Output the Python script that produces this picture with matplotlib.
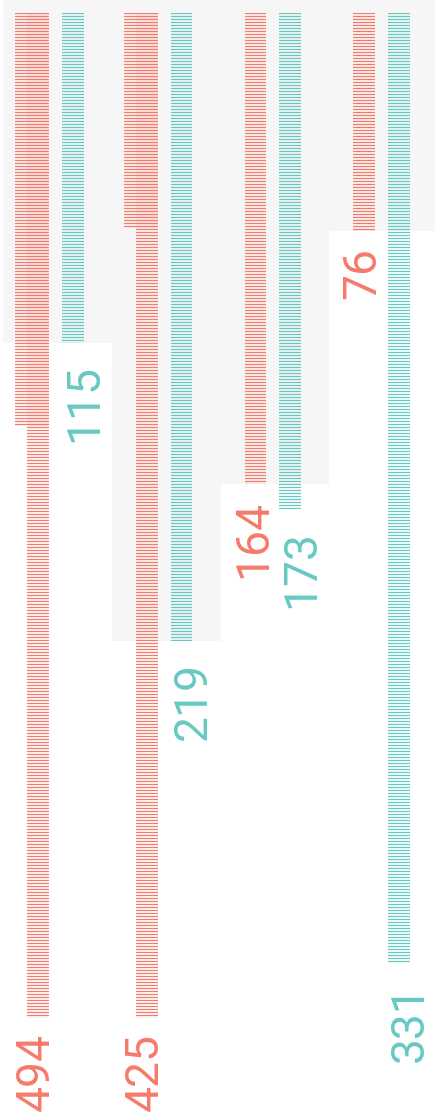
import matplotlib.pyplot as plt
import matplotlib.transforms as mtransforms
import numpy as np

plt.rcParams["hatch.linewidth"] = 1.0

# values per group (red series, teal series)
red_vals = [494, 425, 164, 76]
teal_vals = [115, 219, 173, 331]
y_max = 350  # bars longer than this get clipped, overflow is drawn as a wider cap

red = "#F67A6C"
teal = "#66C9C1"
grey = "#F6F6F6"

dpi = 90
fig = plt.figure(figsize=(435 / dpi, 1120 / dpi), dpi=dpi)
ax = fig.add_axes([3 / 435, 102.5 / 1120, 1.0, 1017.5 / 1120])

x = np.arange(len(red_vals))
red_v = np.array(red_vals)
teal_v = np.array(teal_vals)

# grey band behind each group, down to the shorter bar
top_pad = 4.5
ax.bar(x, np.minimum(red_v, teal_v) + top_pad, bottom=-top_pad, width=1.0,
       color=grey, linewidth=0, zorder=0)

red_x = x - 0.178
teal_x = x + 0.141
bw = 0.2

ax.bar(red_x, red_v, width=bw, color="none", edgecolor=red, linewidth=0,
       hatch="-----", zorder=2)
ax.bar(teal_x, teal_v, width=bw, color="none", edgecolor=teal, linewidth=0,
       hatch="-----", zorder=2)

# overflow cap: wider strip at the top showing how much the bar exceeds y_max
overflow = np.clip(red_v - y_max, 0, None)
cap_w = 0.31
ax.bar(red_x + bw / 2 - cap_w / 2, overflow, width=cap_w, color="none",
       edgecolor=red, linewidth=0, hatch="-----", zorder=2)

ax.set_xlim(-0.5, 3.5)
ax.set_ylim(y_max, -top_pad)
ax.axis("off")

font = dict(family=["Roboto", "DejaVu Sans"], fontsize=37)

for i in range(len(red_vals)):
    ry = min(red_vals[i], y_max)
    tr = mtransforms.offset_copy(ax.transData, fig=fig, y=-16, units="dots")
    ax.text(red_x[i] + bw / 2, ry, str(red_vals[i]), color=red, rotation=90,
            rotation_mode="anchor", ha="right", va="baseline",
            transform=tr, clip_on=False, **font)
    ty = min(teal_vals[i], y_max)
    tt = mtransforms.offset_copy(ax.transData, fig=fig, y=-21, units="dots")
    ax.text(teal_x[i] - bw / 2, ty, str(teal_vals[i]), color=teal, rotation=90,
            rotation_mode="anchor", ha="right", va="top",
            transform=tt, clip_on=False, **font)

fig.savefig("out.png", dpi=dpi, facecolor="white")
